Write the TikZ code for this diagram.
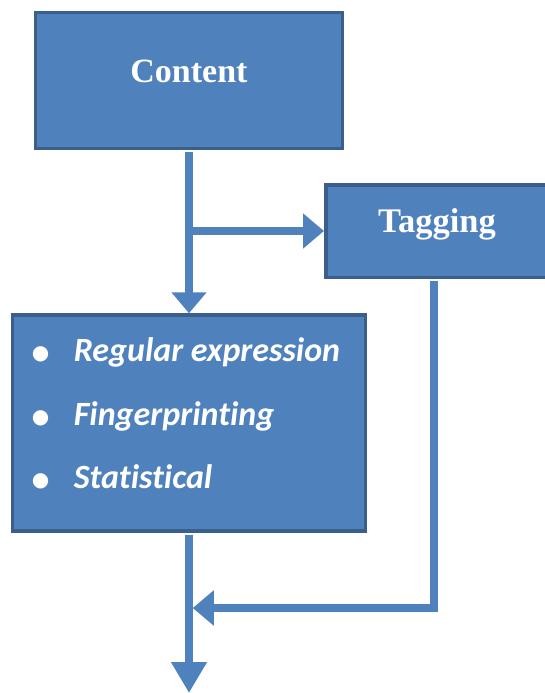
\documentclass[tikz,border=0pt]{standalone}
\usepackage{fontspec}
\setmainfont{Liberation Serif}
\newfontfamily\calibrifont[Ligatures=CommonOff]{Carlito}
\newfontfamily\dotfont{DejaVu Sans}
\usepackage{tikz}
\usetikzlibrary{arrows.meta}
\usepackage{xcolor}
\definecolor{boxblue}{HTML}{4F81BD}
\definecolor{boxedge}{HTML}{3A5F8B}
\newcommand{\bitem}[1]{\makebox[42pt][l]{\raisebox{2pt}{\dotfont\fontsize{20}{20}\selectfont ●}}#1}

\begin{document}
\begin{tikzpicture}[x=1pt, y=1pt, >={Triangle[width=34pt,length=21pt]},
	box/.style={draw=boxedge, line width=3.5pt, fill=boxblue, text=white, inner sep=0pt},
	flow/.style={draw=boxblue, line width=7.5pt}]
\path[use as bounding box, clip] (0,0) rectangle (545,-693);

% the three boxes
\node[box, minimum width=307pt, minimum height=136pt, font=\bfseries\fontsize{34}{40}\selectfont,
	text height=22pt, text depth=17pt] (content) at (189,-80.4) {Content};
\node[box, minimum width=222.5pt, minimum height=92.5pt, font=\bfseries\fontsize{34.5}{40}\selectfont,
	text height=22pt, text depth=20pt] (tagging) at (437,-231) {Tagging};
\node[box, minimum width=352.6pt, minimum height=216pt,
	inner ysep=22.5pt, text height=151pt, text depth=20pt, align=left,
	font=\calibrifont\bfseries\itshape\fontsize{34}{63.5}\selectfont] (methods) at (189,-423)
	{\bitem{Regular expression}\hspace*{6pt}\\ \bitem{Fingerprinting}\\ \bitem{Statistical}};

\coordinate (merge) at (methods.south |- 0,-608);
\coordinate (out) at (189,-693);

% connectors
\draw[flow, ->, shorten <=1.75pt] (content.south) -- (methods.north);
\draw[flow, ->] (content.south |- tagging.west) -- (tagging.west);
\draw[flow, ->, shorten <=1.75pt] ([xshift=-3pt]tagging.south) |- ([xshift=3.75pt]merge);
\draw[flow, -{Triangle[width=34pt,length=31pt]}, shorten <=1.75pt] (methods.south) -- (out);
\end{tikzpicture}
\end{document}
